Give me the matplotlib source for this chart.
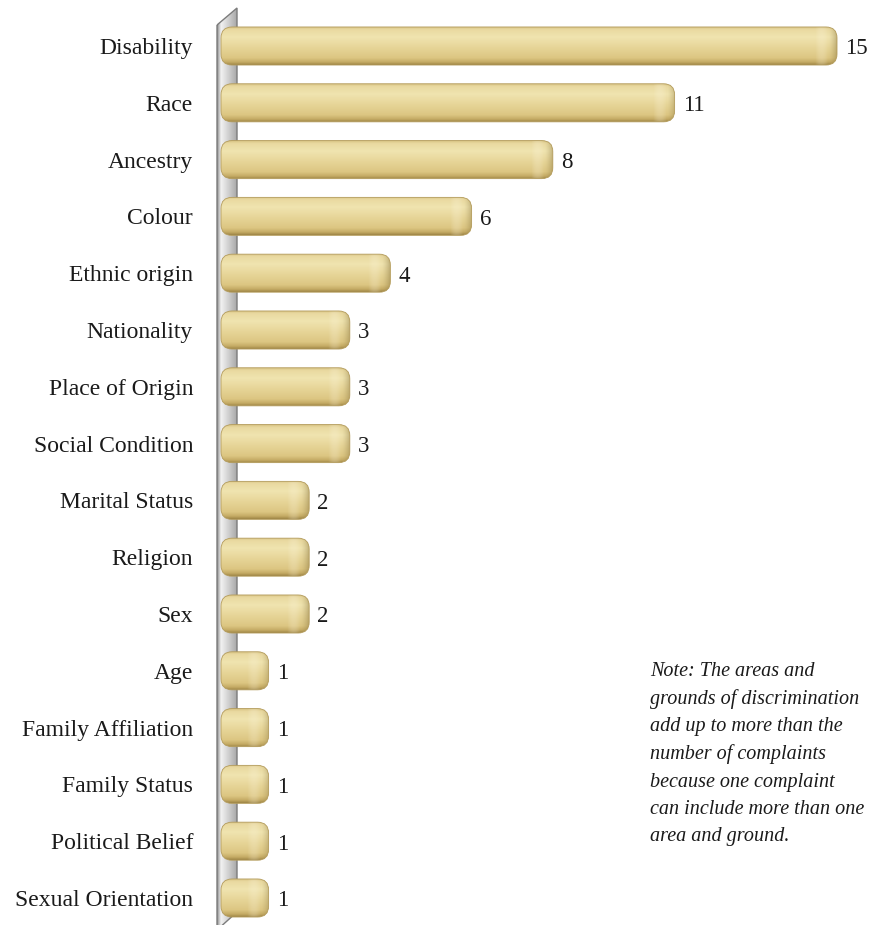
import numpy as np
import matplotlib
matplotlib.use('Agg')
import matplotlib.pyplot as plt
from matplotlib.patches import FancyBboxPatch, Polygon
from matplotlib.colors import LinearSegmentedColormap

grounds = ['Disability', 'Race', 'Ancestry', 'Colour', 'Ethnic origin',
           'Nationality', 'Place of Origin', 'Social Condition',
           'Marital Status', 'Religion', 'Sex', 'Age', 'Family Affiliation',
           'Family Status', 'Political Belief', 'Sexual Orientation']
counts = [15, 11, 8, 6, 4, 3, 3, 3, 2, 2, 2, 1, 1, 1, 1, 1]

note_lines = ['Note: The areas and',
              'grounds of discrimination',
              'add up to more than the',
              'number of complaints',
              'because one complaint',
              'can include more than one',
              'area and ground.']

W, H = 874, 925
fig = plt.figure(figsize=(W/100, H/100), dpi=100)
ax = fig.add_axes([200/W, 0, (W-200)/W, 1])

px_x = 40.6   # pixels per count
px_y = 56.8   # pixels per bar slot

# gold cylinder shading, top -> bottom
gold = LinearSegmentedColormap.from_list('gold', [
    (0.0, '#d2bc7a'), (0.08, '#e9d9a0'), (0.28, '#f0e4b0'),
    (0.55, '#e7d598'), (0.82, '#dcc682'), (0.93, '#c4aa64'),
    (1.0, '#9e8646')])
grad = np.linspace(0, 1, 200).reshape(-1, 1)

# the grey wall behind the bars
wx0, wx1 = -11/px_x, 9/px_x
wall = Polygon([(wx0, -21/px_y), (wx1, -38/px_y), (wx1, (912-46)/px_y),
                (wx0, (930-46)/px_y)], closed=True, facecolor='none',
               edgecolor='#7c7c7c', lw=1.0, zorder=1)
ax.add_patch(wall)
wall_cmap = LinearSegmentedColormap.from_list('wall', [
    (0.0, '#8c8c8c'), (0.2, '#f2f2f2'), (0.45, '#dcdcdc'), (1.0, '#a8a8a8')])
wim = ax.imshow(np.linspace(0, 1, 100).reshape(1, -1), cmap=wall_cmap,
                extent=(wx0, wx1, (930-46)/px_y, -38/px_y), aspect='auto',
                zorder=0.9)
wim.set_clip_path(wall)

pos = np.arange(len(grounds))
bars = ax.barh(pos, counts, height=0.67, color='none', edgecolor='none')

start = -7/px_x
r = 11/px_x
t = np.linspace(0, 1, 60)
cap = np.zeros((1, 60, 4))
cap[0, :, :3] = np.where(t[:, None] < 0.6, [1.0, 0.98, 0.9], [0.5, 0.42, 0.2])
cap[0, :, 3] = np.where(t < 0.6, 0.22*np.sin(np.pi*t/0.6),
                        0.4*((t-0.6)/0.4)**1.5)
for b, v in zip(bars, counts):
    y0 = b.get_y()
    h = b.get_height()
    x1 = b.get_x() + b.get_width()
    p = FancyBboxPatch((start, y0), x1 - start, h,
                       boxstyle=f'round,pad=0,rounding_size={r}',
                       mutation_aspect=px_x/px_y,
                       facecolor='none', edgecolor='#b49c5c', lw=0.6,
                       zorder=3)
    ax.add_patch(p)
    im = ax.imshow(grad, cmap=gold, extent=(start, x1, y0 + h, y0),
                   aspect='auto', zorder=2)
    im.set_clip_path(p)
    # lighter spot then darker rim at the rounded end
    cim = ax.imshow(cap, extent=(x1 - 22/px_x, x1, y0 + h, y0),
                    aspect='auto', zorder=2.5)
    cim.set_clip_path(p)
    ax.text(x1 + 8/px_x, b.get_y() + h/2 + 3/px_y, str(v), ha='left',
            va='center', fontsize=16.5, family='Liberation Serif',
            color='#1a1a1a')

ax.set_xlim(-28/px_x, (W-228)/px_x)
ax.set_ylim((H-46)/px_y, -46/px_y)

ax.set_yticks(pos)
ax.set_yticklabels(grounds, family='Liberation Serif', fontsize=17,
                   color='#1a1a1a')
ax.tick_params(axis='y', length=0, pad=5)
ax.set_xticks([])
for s in ax.spines.values():
    s.set_visible(False)

for i, line in enumerate(note_lines):
    fig.text(650/W, 1 - (672 + i*27.5)/H, line, ha='left', va='center',
             fontsize=14.5, style='italic', family='Liberation Serif',
             color='#1a1a1a')

fig.savefig('out.png', dpi=100)
